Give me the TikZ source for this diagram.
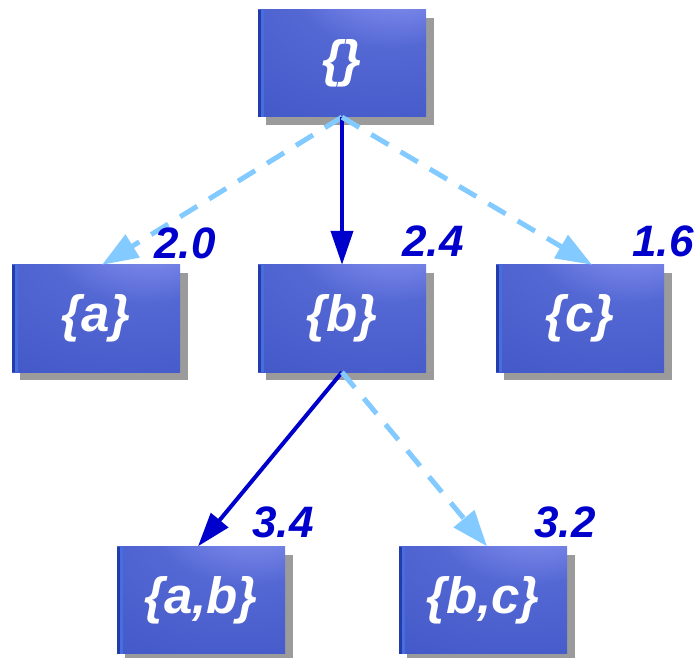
\documentclass[tikz,border=0pt]{standalone}
\usepackage{fontspec}
\setmainfont{Liberation Sans}
\usetikzlibrary{arrows.meta, shadows}

\definecolor{setblue}{RGB}{0,0,204}
\definecolor{skyblue}{RGB}{130,202,255}
\definecolor{shadowgray}{RGB}{155,155,155}
\definecolor{glowA}{RGB}{185,185,255}
\definecolor{glowB}{RGB}{135,145,240}
\definecolor{glowC}{RGB}{84,104,212}
\definecolor{glowD}{RGB}{68,90,200}
\definecolor{glowE}{RGB}{52,72,184}
\definecolor{stripedark}{RGB}{35,60,170}
\definecolor{stripelight}{RGB}{70,110,225}

% blue box with a light spot near the top
\pgfdeclareradialshading{boxglow}{\pgfpoint{20bp}{50bp}}{%
  color(0bp)=(glowA);
  color(10bp)=(glowB);
  color(28bp)=(glowC);
  color(55bp)=(glowD);
  color(95bp)=(glowE)}

\begin{document}
\begin{tikzpicture}[x=1pt, y=-1pt,
  setbox/.style={rectangle, minimum width=168pt, minimum height=107pt,
    inner sep=0pt, shading=boxglow, text=white,
    font=\fontsize{51}{60}\selectfont\bfseries\itshape,
    drop shadow={shadow xshift=8pt, shadow yshift=-8pt,
      fill=shadowgray, opacity=1},
    path picture={
      \fill[stripedark] (path picture bounding box.north west)
        rectangle ([xshift=3pt]path picture bounding box.south west);
      \fill[stripelight] ([xshift=3pt]path picture bounding box.north west)
        rectangle ([xshift=6pt]path picture bounding box.south west);
    }},
  cost/.style={text=setblue, font=\fontsize{44}{52}\selectfont\bfseries\itshape},
  best/.style={-{Triangle[length=34pt, width=22pt]}, setblue, line width=4pt},
  other/.style={-{Triangle[length=36pt, width=26pt]}, skyblue, line width=5pt,
    dash pattern=on 20pt off 14pt}]

\useasboundingbox (0,0) rectangle (697,658);

% Mengen
\node[setbox] (empty) at (342,63.5) {\{\}};
\node[setbox] (a) at (96,318.5) {\{a\}};
\node[setbox] (b) at (342,318.5) {\{b\}};
\node[setbox] (c) at (580,318.5) {\{c\}};
\node[setbox] (ab) at (201,600) {\{a,b\}};
\node[setbox] (bc) at (483,600) {\{b,c\}};

% Kanten
\draw[other] (empty.south) -- ([xshift=6pt]a.north);
\draw[best] (empty.south) -- (b.north);
\draw[other] (empty.south) -- ([xshift=12pt]c.north);
\draw[best] (b.south) -- ([xshift=-3pt]ab.north);
\draw[other] (b.south) -- ([xshift=4pt]bc.north);

% Werte
\node[cost] (va) at (185,243) {2.0};
\node[cost] (vb) at (433,241) {2.4};
\node[cost] (vc) at (663,241) {1.6};
\node[cost] (vab) at (283,522) {3.4};
\node[cost] (vbc) at (565,522) {3.2};

\end{tikzpicture}
\end{document}
